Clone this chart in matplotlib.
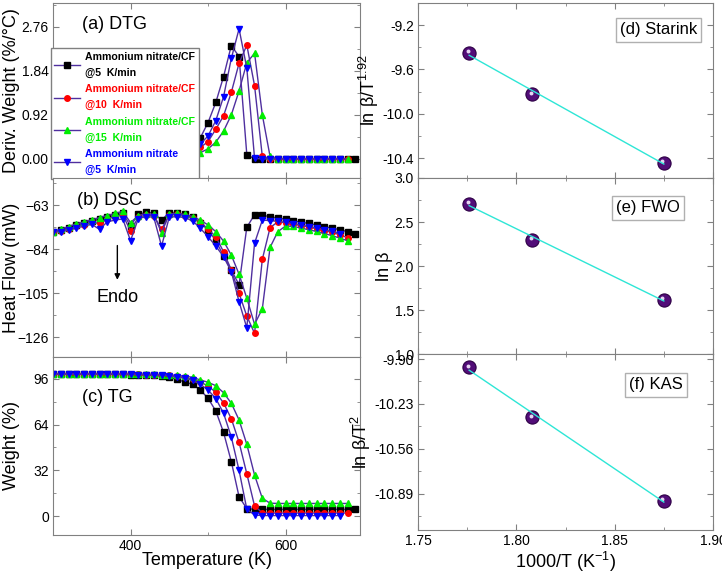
import matplotlib
matplotlib.use("Agg")
import matplotlib.pyplot as plt
import numpy as np
from matplotlib.ticker import MultipleLocator, FixedLocator, FormatStrFormatter
from matplotlib.transforms import offset_copy

plt.rcParams['font.family'] = ['Liberation Sans', 'DejaVu Sans']
plt.rcParams['mathtext.default'] = 'regular'

# temperature grids (K), one point every 10 K
t_black = np.arange(300, 700, 10)   # 300..690
t_red = np.arange(300, 690, 10)     # 300..680
t_green = np.arange(300, 690, 10)   # 300..680
t_blue = np.arange(300, 680, 10)    # 300..670

# (a) DTG, %/C
dtg_black = [0.00, 0.00, 0.00, 0.00, 0.01, 0.01, 0.01, 0.01, 0.02, 0.02, 0.02, 0.03, 0.03, 0.04, 0.05,
             0.07, 0.11, 0.18, 0.27, 0.44, 0.76, 1.18, 1.72, 2.37, 2.14, 0.09,
             0, 0, 0, 0, 0, 0, 0, 0, 0, 0, 0, 0, 0, 0]
dtg_red = [0, 0, 0, 0, 0, 0, 0.01, 0.01, 0.01, 0.01, 0.02, 0.02, 0.02, 0.03, 0.03,
           0.04, 0.05, 0.07, 0.12, 0.24, 0.36, 0.62, 0.90, 1.39, 2.00, 2.38, 1.53, 0.05,
           0, 0, 0, 0, 0, 0, 0, 0, 0, 0, 0]
dtg_green = [0, 0, 0, 0, 0, 0, 0, 0.01, 0.01, 0.01, 0.01, 0.02, 0.02, 0.02, 0.02,
             0.03, 0.03, 0.05, 0.08, 0.13, 0.21, 0.35, 0.58, 0.92, 1.42, 2.01, 2.21, 0.92, 0.05,
             0, 0, 0, 0, 0, 0, 0, 0, 0, 0]
dtg_blue = [0, 0, 0, 0, 0, 0.01, 0.01, 0.01, 0.01, 0.02, 0.02, 0.02, 0.03, 0.03, 0.04,
            0.05, 0.07, 0.10, 0.15, 0.31, 0.48, 0.80, 1.30, 2.10, 2.72, 1.90, 0.01,
            0, 0, 0, 0, 0, 0, 0, 0, 0, 0, 0]

# (b) DSC, mW
dsc_black = [-75.7, -74.8, -73.8, -72.6, -71.6, -70.6, -69.8, -68.8, -67.8, -67.0,
             -72.9, -67.5, -66.5, -66.8, -70.2, -66.6, -66.8, -67.5, -68.8, -71.4,
             -74.9, -80.0, -87.3, -94.0, -101.0, -73.6, -67.6, -67.8,
             -68.6, -69.2, -69.8, -70.5, -71.2, -71.8, -72.5, -73.3, -74.0, -74.8, -75.7, -77.0]
dsc_red = [-75.7, -75.2, -74.3, -73.2, -72.3, -71.3, -71.8, -69.5, -68.5, -67.8,
           -75.3, -68.9, -67.8, -68.0, -74.6, -67.6, -67.5, -68.0, -69.3, -71.0,
           -74.5, -78.1, -85.3, -94.0, -105.1, -116.0, -124.2, -88.9,
           -73.8, -71.0, -71.5, -72.1, -72.8, -73.5, -74.3, -75.2, -76.1, -77.2, -78.6]
dsc_green = [-75.7, -74.5, -73.3, -72.0, -71.0, -70.0, -69.0, -68.0, -67.0, -66.0,
             -71.4, -68.0, -67.2, -67.5, -76.2, -67.3, -67.0, -67.5, -68.5, -70.2,
             -72.5, -75.7, -80.2, -86.9, -96.0, -107.5, -119.9, -112.5,
             -83.2, -75.7, -73.0, -73.2, -74.0, -74.8, -75.6, -76.6, -77.6, -78.8, -80.0]
dsc_blue = [-75.9, -75.7, -75.0, -74.0, -73.0, -72.2, -74.6, -71.0, -70.2, -69.6,
            -80.0, -69.5, -68.5, -68.8, -82.6, -68.8, -68.5, -69.0, -70.5, -74.1,
            -78.1, -82.6, -87.6, -94.8, -109.1, -121.6, -81.2, -70.2,
            -70.4, -70.8, -71.3, -71.9, -72.6, -73.3, -74.0, -74.8, -75.6, -76.6]

# (c) TG, %
tg_black = [99.4, 99.4, 99.4, 99.4, 99.3, 99.3, 99.3, 99.3, 99.2, 99.2, 99.1, 99.0, 98.8, 98.5, 98.0,
            97.2, 95.8, 93.8, 92.3, 88.3, 82.5, 73.6, 58.6, 38.1, 13.5, 5.2,
            4.7, 4.7, 4.7, 4.7, 4.7, 4.7, 4.7, 4.7, 4.7, 4.7, 4.7, 4.7, 4.7, 4.7]
tg_red = [99.4, 99.4, 99.4, 99.4, 99.4, 99.4, 99.3, 99.3, 99.3, 99.3, 99.2, 99.2, 99.1, 99.0, 98.9,
          98.5, 97.9, 97.1, 95.8, 94.0, 91.0, 86.7, 79.2, 68.2, 51.7, 29.6, 7.0, 2.3,
          2.1, 2.1, 2.1, 2.1, 2.1, 2.1, 2.1, 2.1, 2.1, 2.1, 2.1]
tg_green = [99.5, 99.5, 99.5, 99.5, 99.5, 99.5, 99.4, 99.4, 99.4, 99.4, 99.3, 99.3, 99.3, 99.2, 99.1,
            98.9, 98.5, 98.0, 97.2, 95.3, 93.7, 91.3, 86.4, 79.0, 67.3, 50.2, 28.7, 12.4, 9.0,
            8.8, 8.8, 8.8, 8.8, 8.8, 8.8, 8.8, 8.8, 8.8, 8.8]
tg_blue = [99.4, 99.4, 99.4, 99.4, 99.4, 99.3, 99.3, 99.3, 99.3, 99.2, 99.2, 99.1, 99.0, 98.9, 98.7,
           98.2, 97.5, 96.5, 95.0, 92.3, 88.3, 82.3, 72.0, 55.4, 32.0, 4.8, 0.7,
           0.3, 0.3, 0.3, 0.3, 0.3, 0.3, 0.3, 0.3, 0.3, 0.3, 0.3]

labels = ["Ammonium nitrate/CF\n@5  K/min", "Ammonium nitrate/CF\n@10  K/min",
          "Ammonium nitrate/CF\n@15  K/min", "Ammonium nitrate\n@5  K/min"]
colors = ["#000000", "#ff0000", "#00ee00", "#0000ff"]
markers = ["s", "o", "^", "v"]
temps = [t_black, t_red, t_green, t_blue]
dtg = [dtg_black, dtg_red, dtg_green, dtg_blue]
dsc = [dsc_black, dsc_red, dsc_green, dsc_blue]
tg = [tg_black, tg_red, tg_green, tg_blue]

# kinetic plots
inv_t = [1.776, 1.808, 1.875]
starink = [-9.449, -9.823, -10.443]
fwo = [2.71, 2.30, 1.614]
kas = [-9.961, -10.326, -10.941]

line_col = "#4f2f9f"
frame_col = "#808080"


def style(ax):
    for sp in ax.spines.values():
        sp.set_color(frame_col)
    ax.tick_params(which="both", direction="in", top=True, right=True, color=frame_col,
                   labelsize=10, pad=3)
    ax.tick_params(which="major", length=4)
    ax.tick_params(which="minor", length=2.5)


fig = plt.figure(figsize=(7.22, 5.79), dpi=100)
W, H = 722.0, 579.0
ax_a = fig.add_axes([53 / W, 1 - 178 / H, 307 / W, 175 / H])
ax_b = fig.add_axes([53 / W, 1 - 357 / H, 307 / W, 179 / H], sharex=ax_a)
ax_c = fig.add_axes([53 / W, 1 - 535 / H, 307 / W, 178 / H], sharex=ax_a)
ax_d = fig.add_axes([418 / W, 1 - 178 / H, 295 / W, 175 / H])
ax_e = fig.add_axes([418 / W, 1 - 354 / H, 295 / W, 176 / H], sharex=ax_d)
ax_f = fig.add_axes([418 / W, 1 - 530 / H, 295 / W, 176 / H], sharex=ax_d)

handles = []
for t, ya, yb, yc, c, m in zip(temps, dtg, dsc, tg, colors, markers):
    kw = dict(color=line_col, lw=1, marker=m, ms=4, mfc=c, mec=c)
    h, = ax_a.plot(t, ya, **kw)
    ax_b.plot(t, yb, **kw)
    ax_c.plot(t, yc, **kw)
    handles.append(h)

for ax in (ax_a, ax_b, ax_c):
    style(ax)
    ax.xaxis.set_major_locator(MultipleLocator(200))
    ax.xaxis.set_minor_locator(MultipleLocator(100))
ax_a.set_xlim(300, 696)
for ax in (ax_a, ax_b):
    ax.tick_params(labelbottom=False)

ax_a.set_ylim(-0.40, 3.26)
ax_a.yaxis.set_major_locator(FixedLocator([0, 0.92, 1.84, 2.76]))
ax_a.yaxis.set_minor_locator(FixedLocator([0.46, 1.38, 2.30, 3.22]))
ax_a.yaxis.set_major_formatter(FormatStrFormatter("%.2f"))
ax_a.set_ylabel("Deriv. Weight (%/°C)", fontsize=13)
ax_a.text(0.095, 0.875, "(a) DTG", transform=ax_a.transAxes, fontsize=13, va="center")

ax_b.set_ylim(-135.5, -50.1)
ax_b.yaxis.set_major_locator(FixedLocator([-63, -84, -105, -126]))
ax_b.yaxis.set_minor_locator(FixedLocator([-52.5, -73.5, -94.5, -115.5]))
ax_b.set_ylabel("Heat Flow (mW)", fontsize=13)
ax_b.text(0.077, 0.877, "(b) DSC", transform=ax_b.transAxes, fontsize=13, va="center")
ax_b.annotate("", xy=(383, -100), xytext=(383, -81),
              arrowprops=dict(arrowstyle="-|>", color="k", lw=1, mutation_scale=8))
ax_b.text(383, -107, "Endo", ha="center", va="center", fontsize=13)

ax_c.set_ylim(-13.3, 111.4)
ax_c.yaxis.set_major_locator(FixedLocator([0, 32, 64, 96]))
ax_c.yaxis.set_minor_locator(FixedLocator([16, 48, 80]))
ax_c.set_ylabel("Weight (%)", fontsize=13)
ax_c.set_xlabel("Temperature (K)", fontsize=13, labelpad=-1)
ax_c.text(0.093, 0.775, "(c) TG", transform=ax_c.transAxes, fontsize=13, va="center")

# the three left y titles share one column, as in the original
for ax in (ax_a, ax_b, ax_c):
    ax.yaxis.set_label_coords(-0.108, 0.5)

leg = ax_a.legend(handles, labels, loc="lower left", bbox_to_anchor=(-0.008, -0.005),
                  borderaxespad=0, fancybox=False, framealpha=1, edgecolor=frame_col,
                  prop=dict(weight="bold", size=7.6), handlelength=2.4,
                  handletextpad=0.5, labelspacing=0.6, borderpad=0.35)
for txt, c in zip(leg.get_texts(), colors):
    txt.set_color(c)
    txt.set_linespacing(1.75)

# right column
panels = [(ax_d, starink, "ln β/T$^{1.92}$", "(d) Starink", 0.946, 0.846),
          (ax_e, fwo, "ln β", "(e) FWO", 0.888, 0.83),
          (ax_f, kas, "ln β/T$^{2}$", "(f) KAS", 0.898, 0.824)]
for ax, vals, ylab, tag, tx, ty in panels:
    style(ax)
    ax.scatter(inv_t, vals, s=90, color="#520d78", edgecolor="#2d0045", lw=0.8, zorder=3)
    hl = offset_copy(ax.transData, fig=fig, x=-1.5, y=1.5, units="dots")
    ax.scatter(inv_t, vals, s=8, color="#e6d6f2", lw=0, transform=hl, zorder=4)
    k, b = np.polyfit(inv_t, vals, 1)
    xs = np.array([min(inv_t), max(inv_t)])
    ax.plot(xs, k * xs + b, color="#2ee6d6", lw=1, zorder=5)
    ax.set_ylabel(ylab, fontsize=13, labelpad=1)
    ax.text(tx, ty, tag, transform=ax.transAxes, ha="right", va="center", fontsize=12,
            bbox=dict(boxstyle="square,pad=0.25", fc="white", ec="#b0b0b0", lw=1))

ax_d.set_xlim(1.75, 1.90)
ax_d.xaxis.set_major_locator(MultipleLocator(0.05))
ax_d.xaxis.set_minor_locator(MultipleLocator(0.025))
ax_f.xaxis.set_major_formatter(FormatStrFormatter("%.2f"))
for ax in (ax_d, ax_e):
    ax.tick_params(labelbottom=False)

ax_d.set_ylim(-10.58, -9.0)
ax_d.yaxis.set_major_locator(FixedLocator([-10.4, -10.0, -9.6, -9.2]))
ax_d.yaxis.set_minor_locator(FixedLocator([-10.2, -9.8, -9.4]))
ax_d.yaxis.set_major_formatter(FormatStrFormatter("%.1f"))

ax_e.set_ylim(1.0, 3.0)
ax_e.yaxis.set_major_locator(MultipleLocator(0.5))
ax_e.yaxis.set_minor_locator(MultipleLocator(0.25))
ax_e.yaxis.set_major_formatter(FormatStrFormatter("%.1f"))

ax_f.set_ylim(-11.156, -9.863)
ax_f.yaxis.set_major_locator(FixedLocator([-10.89, -10.56, -10.23, -9.90]))
ax_f.yaxis.set_minor_locator(FixedLocator([-11.055, -10.725, -10.395, -10.065]))
ax_f.yaxis.set_major_formatter(FormatStrFormatter("%.2f"))
ax_f.set_xlabel("1000/T (K$^{-1}$)", fontsize=13, labelpad=1)

fig.savefig("out.png", dpi=100)
